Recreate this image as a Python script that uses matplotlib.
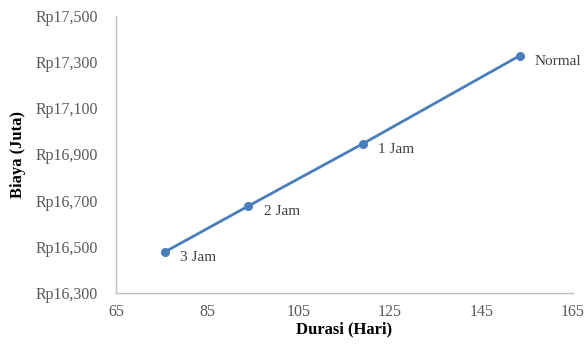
import matplotlib
matplotlib.use("Agg")
import matplotlib.pyplot as plt
from matplotlib.ticker import FuncFormatter

# durasi proyek (hari) vs biaya (juta rupiah) per skenario lembur
labels = ["3 Jam", "2 Jam", "1 Jam", "Normal"]
durasi = [75.7, 94.0, 119.0, 153.4]
biaya = [16478, 16677, 16946, 17328]

plt.rcParams["font.family"] = ["Liberation Serif", "DejaVu Serif"]

fig = plt.figure(figsize=(5.84, 3.45), dpi=100)
ax = fig.add_axes([0.1986, 0.1507, 0.782, 0.803])

ax.plot(durasi, biaya, color="#4A7EBB", linewidth=2, marker="o", markersize=5.5)

for lbl, x, y in zip(labels, durasi, biaya):
    ax.annotate(lbl, (x, y), xytext=(11, -4), textcoords="offset points",
                fontsize=11, color="#404040", va="center", ha="left")

ax.set_xlim(65, 165)
ax.set_ylim(16300, 17500)
ax.set_xticks(range(65, 166, 20))
ax.set_yticks(range(16300, 17501, 200))
ax.yaxis.set_major_formatter(FuncFormatter(lambda v, p: "Rp{:,.0f}".format(v)))

for s in ["top", "right"]:
    ax.spines[s].set_visible(False)
for s in ["left", "bottom"]:
    ax.spines[s].set_color("#BFBFBF")
    ax.spines[s].set_linewidth(1)
ax.tick_params(length=0, labelsize=11.5, labelcolor="#595959")
ax.tick_params(axis="y", pad=13)
ax.tick_params(axis="x", pad=8)

ax.set_xlabel("Durasi (Hari)", fontsize=12, fontweight="bold", labelpad=1)
ax.set_ylabel("Biaya (Juta)", fontsize=12, fontweight="bold", labelpad=7)

fig.savefig("out.png", dpi=100)
